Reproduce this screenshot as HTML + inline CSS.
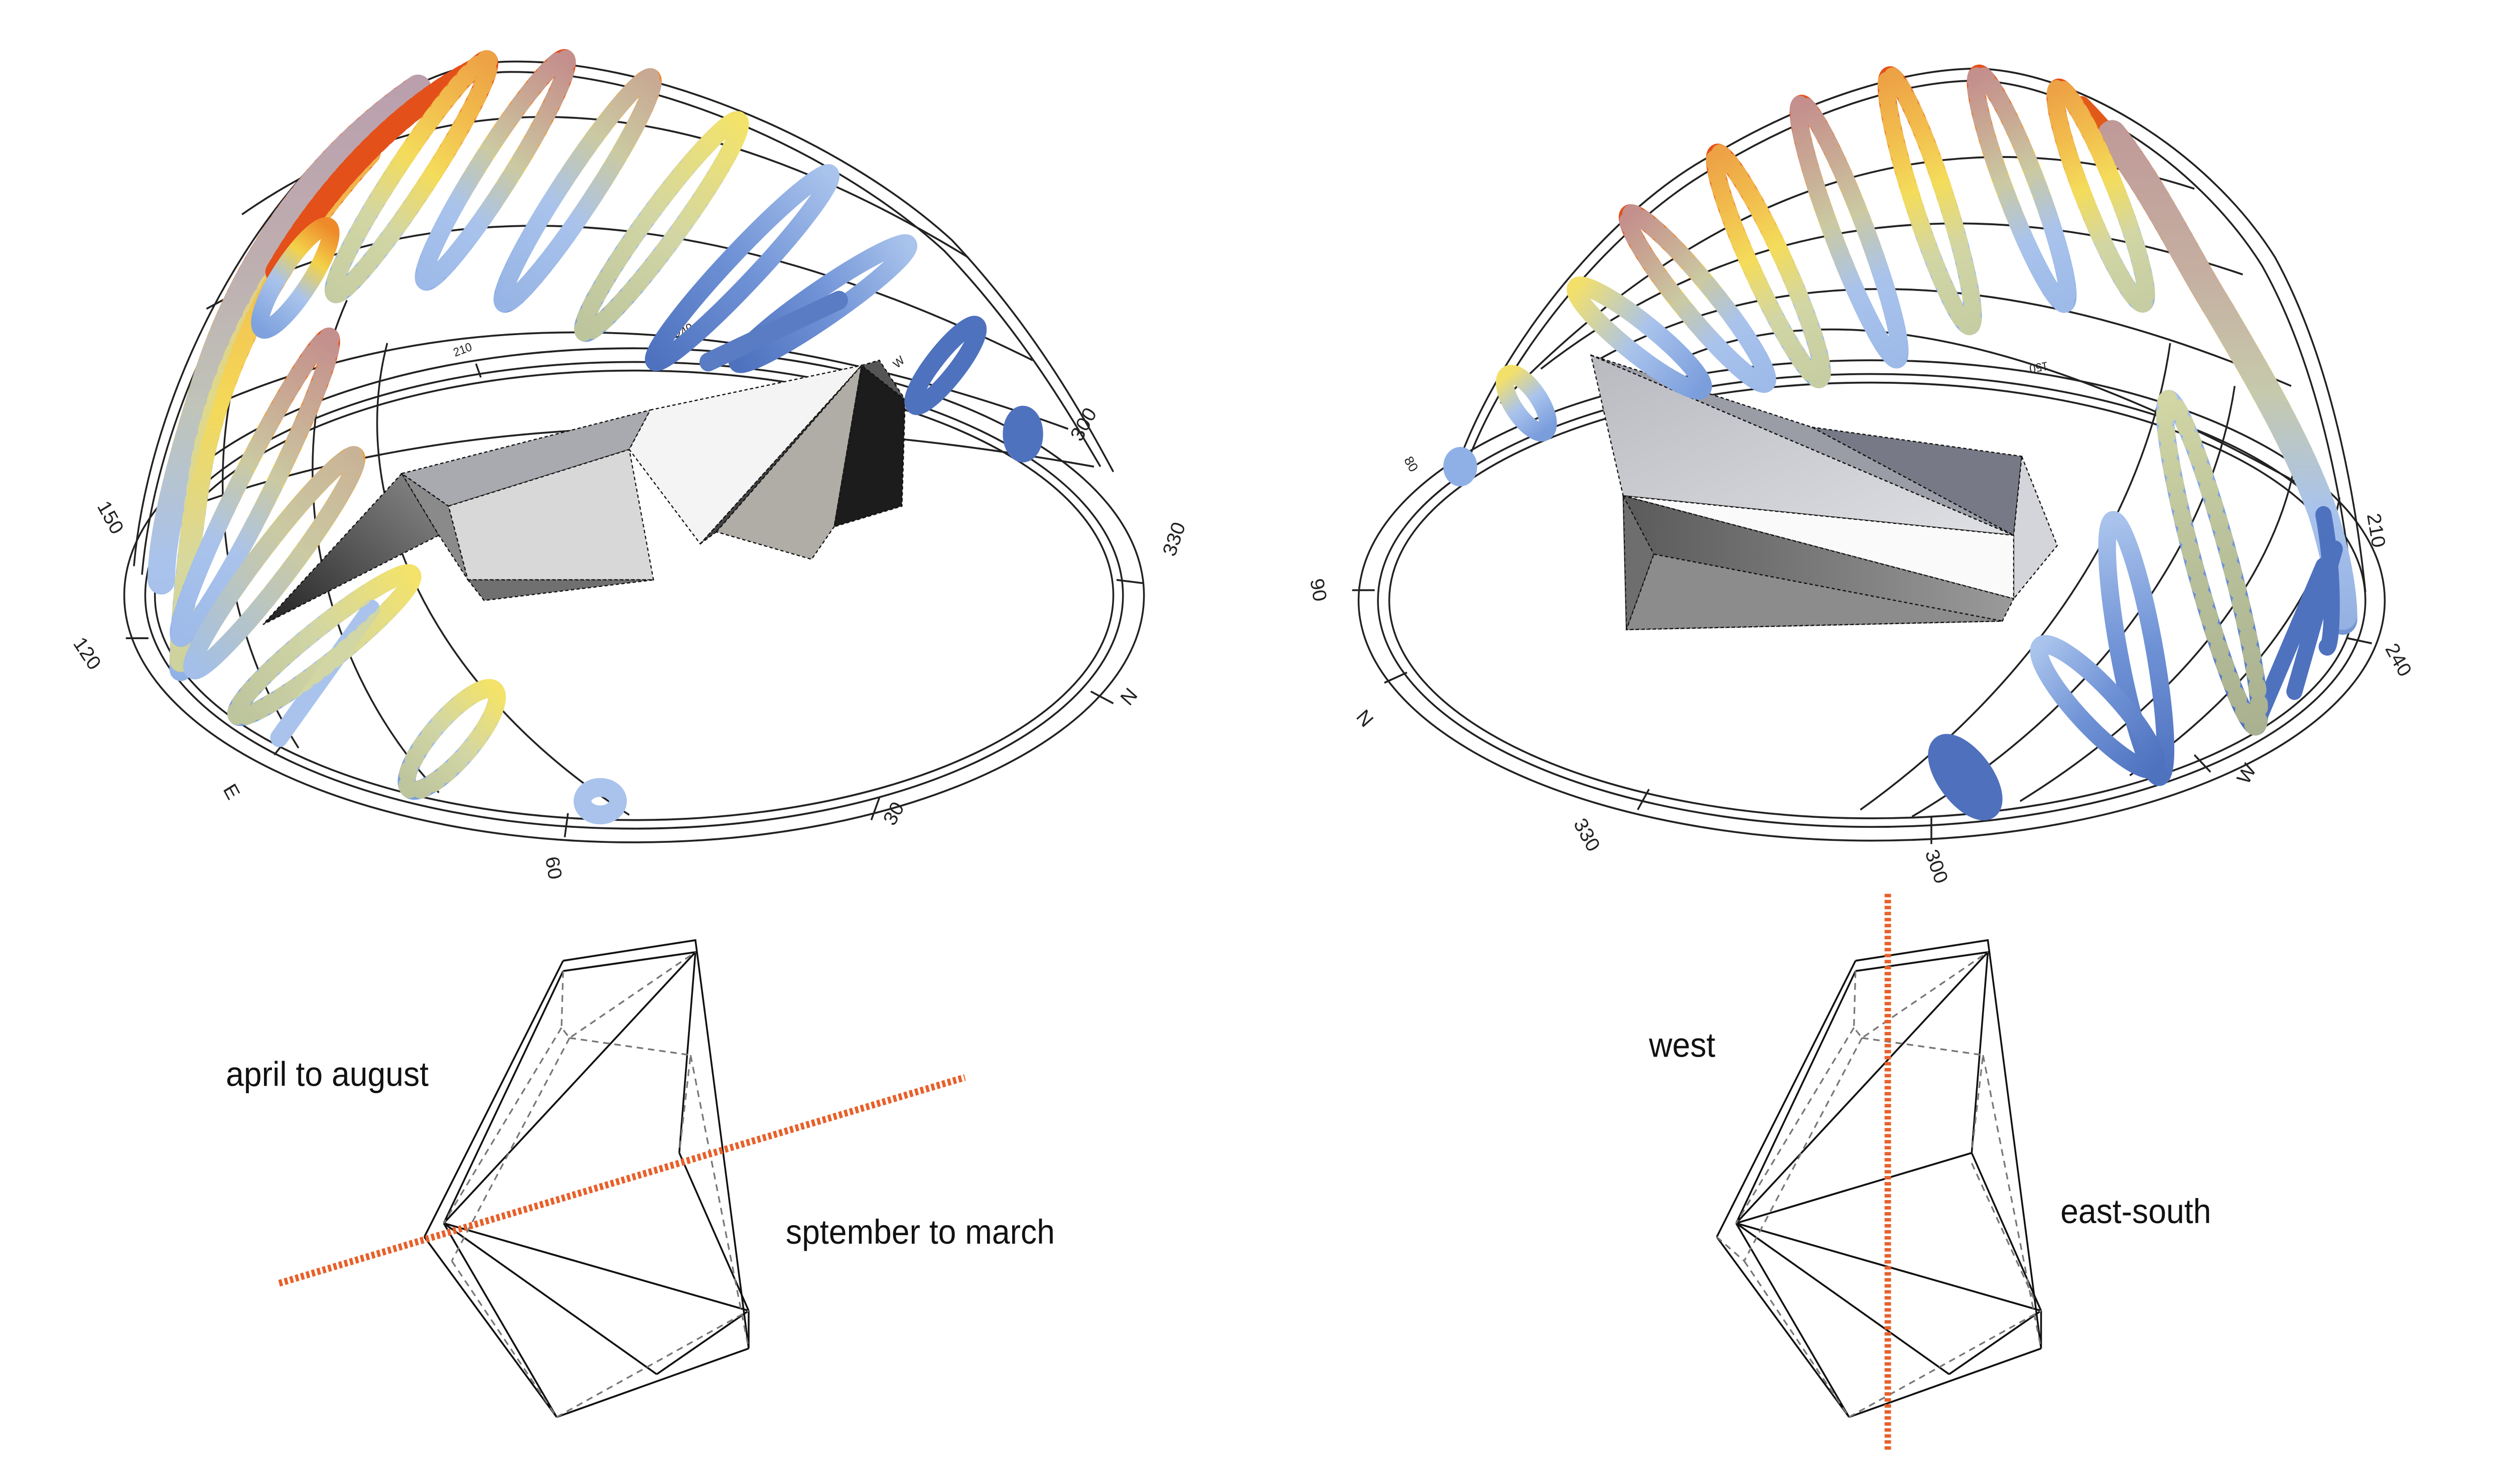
<!DOCTYPE html>
<html><head><meta charset="utf-8"><style>
html,body{margin:0;padding:0;background:#fff;width:100%;height:100%;overflow:hidden;}
svg{display:block;position:fixed;left:0;top:0;width:100vw;height:100vh;}
text{font-family:"Liberation Sans",sans-serif;}
</style></head><body>
<svg viewBox="0 0 1555 865" preserveAspectRatio="none" xmlns="http://www.w3.org/2000/svg">
<rect width="1555" height="865" fill="#fff"/>
<defs>
<linearGradient id="gA"><stop offset="0" stop-color="#e4501a"/><stop offset=".22" stop-color="#ef8a2a"/><stop offset=".45" stop-color="#f3d24a"/><stop offset=".7" stop-color="#a9c3ec"/><stop offset="1" stop-color="#8fb0e6"/></linearGradient>
<linearGradient id="gB"><stop offset="0" stop-color="#ee8a2a"/><stop offset=".3" stop-color="#f3d24a"/><stop offset=".6" stop-color="#a9c3ec"/><stop offset="1" stop-color="#7fa2de"/></linearGradient>
<linearGradient id="gC"><stop offset="0" stop-color="#f3e06a"/><stop offset=".5" stop-color="#a9c3ec"/><stop offset="1" stop-color="#7a9ddc"/></linearGradient>
<linearGradient id="gD"><stop offset="0" stop-color="#a9c3ec"/><stop offset=".5" stop-color="#6f92d6"/><stop offset="1" stop-color="#4f72bf"/></linearGradient>
<linearGradient id="gY"><stop offset="0" stop-color="#f0a030"/><stop offset=".4" stop-color="#f3d24a"/><stop offset="1" stop-color="#9bbbe8"/></linearGradient>
<linearGradient id="gVL" gradientUnits="userSpaceOnUse" x1="0" y1="40" x2="0" y2="400"><stop offset="0" stop-color="#e04818"/><stop offset=".3" stop-color="#ee7a22"/><stop offset=".55" stop-color="#f3c640"/><stop offset=".8" stop-color="#a9c3ec"/><stop offset="1" stop-color="#8fb0e6"/></linearGradient>
<linearGradient id="gVR" gradientUnits="userSpaceOnUse" x1="0" y1="70" x2="0" y2="420"><stop offset="0" stop-color="#e25a1a"/><stop offset=".25" stop-color="#f09030"/><stop offset=".45" stop-color="#f3d24a"/><stop offset=".65" stop-color="#a9c3ec"/><stop offset="1" stop-color="#4f72bf"/></linearGradient>
<linearGradient id="gWing" x1="0" y1="1" x2="1" y2="0"><stop offset="0" stop-color="#222"/><stop offset="1" stop-color="#8a8a8a"/></linearGradient>
<linearGradient id="gRt" x1="0" y1="0" x2="1" y2="1"><stop offset="0" stop-color="#b8bac0"/><stop offset="1" stop-color="#dfe0e4"/></linearGradient>
<linearGradient id="gRb" x1="0" y1="0" x2="1" y2="0"><stop offset="0" stop-color="#5a5a5a"/><stop offset="1" stop-color="#9a9a9a"/></linearGradient>
</defs>

<!-- ========== LEFT DOME GRID ========== -->
<g fill="none" stroke="#222" stroke-width="1.1">
<ellipse cx="393" cy="347" rx="316" ry="144"/>
<ellipse cx="393" cy="347" rx="303" ry="136"/>
<ellipse cx="393" cy="347" rx="297" ry="131"/>
<path d="M83 330 C 95 200, 200 40, 312 36 C 400 33, 520 80, 590 140 C 640 190, 670 240, 690 275"/>
<path d="M88 335 C 100 205, 205 46, 312 42 C 398 40, 515 86, 585 146 C 632 192, 662 240, 682 272"/>
<path d="M150 125 Q 340 0 600 150"/>
<path d="M128 180 Q 340 70 640 210"/>
<path d="M112 245 Q 340 140 662 250"/>
<path d="M104 300 Q 340 215 678 272"/>
<path d="M185 436 C 120 340 128 220 175 150"/>
<path d="M272 462 C 190 380 175 260 215 175"/>
<path d="M390 475 C 265 400 215 290 240 200"/>
</g>
<g font-size="12" fill="#222">
<text x="60" y="295" transform="rotate(60 60 295)">150</text>
<text x="45" y="375" transform="rotate(55 45 375)">120</text>
<text x="138" y="460" transform="rotate(60 138 460)">E</text>
<text x="338" y="500" transform="rotate(80 338 500)">60</text>
<text x="554" y="482" transform="rotate(-60 554 482)">30</text>
<text x="700" y="412" transform="rotate(-50 700 412)">N</text>
<text x="728" y="325" transform="rotate(-70 728 325)">330</text>
<text x="670" y="258" transform="rotate(-60 670 258)">300</text>
<text x="556" y="215" font-size="7" transform="rotate(-40 556 215)">W</text>
<text x="420" y="198" font-size="7" transform="rotate(-30 420 198)">240</text>
<text x="282" y="208" font-size="7" transform="rotate(-20 282 208)">210</text>
</g>
<g stroke="#222" stroke-width="1.1">
<line x1="540" y1="478" x2="545" y2="465"/><line x1="690" y1="410" x2="676" y2="403"/><line x1="709" y1="340" x2="692" y2="338"/><line x1="78" y1="372" x2="92" y2="372"/><line x1="170" y1="440" x2="180" y2="428"/><line x1="350" y1="488" x2="352" y2="474"/><line x1="295" y1="212" x2="298" y2="220"/>
</g>

<!-- left building -->
<g stroke="#111" stroke-width="0.7" stroke-dasharray="2,1.5">
<polygon points="249,276 163,364 272,312" fill="url(#gWing)"/>
<polygon points="249,276 272,312 290,338 278,295" fill="#8a8a8a"/>
<polygon points="249,276 403,239 390,262 278,295" fill="#a9aab0"/>
<polygon points="403,239 534,213 434,317 390,262" fill="#f4f4f4"/>
<polygon points="278,295 390,262 405,338 290,338" fill="#d8d8d8"/>
<polygon points="290,338 405,338 300,350" fill="#707070"/>
<polygon points="434,317 534,213 444,310" fill="#444"/>
<polygon points="444,310 534,213 517,307 503,326" fill="#b0aca6"/>
<polygon points="534,213 561,233 559,295 517,307" fill="#1c1c1c"/>
<polygon points="534,213 545,210 561,233" fill="#555"/>
</g>

<!-- ========== RIGHT DOME GRID ========== -->
<g fill="none" stroke="#222" stroke-width="1.1">
<ellipse cx="1160" cy="350" rx="318" ry="140"/>
<ellipse cx="1160" cy="350" rx="306" ry="132"/>
<ellipse cx="1160" cy="350" rx="299" ry="127"/>
<path d="M903 272 C 930 200, 1000 120, 1064 89 C 1120 58, 1180 40, 1226 40 C 1290 42, 1370 90, 1410 150 C 1445 210, 1460 290, 1466 345"/>
<path d="M910 268 C 937 202, 1005 126, 1068 95 C 1122 65, 1180 47, 1226 47 C 1286 49, 1362 95, 1402 155 C 1436 212, 1452 290, 1458 345"/>
<path d="M930 235 Q 1130 40 1360 110"/>
<path d="M955 215 Q 1140 80 1390 160"/>
<path d="M990 210 Q 1160 120 1420 225"/>
<path d="M1040 210 Q 1180 150 1440 290"/>
<path d="M1153 472 C 1260 400 1330 300 1345 200"/>
<path d="M1185 476 C 1295 415 1370 320 1385 225"/>
<path d="M1252 467 C 1350 410 1420 330 1425 250"/>
<path d="M1320 452 C 1400 400 1440 340 1450 290"/>
</g>
<g font-size="12" fill="#222">
<text x="812" y="338" transform="rotate(80 812 338)">90</text>
<text x="840" y="418" transform="rotate(50 840 418)">N</text>
<text x="975" y="480" transform="rotate(60 975 480)">330</text>
<text x="1193" y="497" transform="rotate(70 1193 497)">300</text>
<text x="1393" y="458" transform="rotate(-60 1393 458)">W</text>
<text x="1478" y="378" transform="rotate(60 1478 378)">240</text>
<text x="1467" y="300" transform="rotate(80 1467 300)">210</text>
<text x="870" y="268" font-size="8" transform="rotate(60 870 268)">80</text>
<text x="1255" y="212" font-size="7" transform="rotate(170 1262 212)">150</text>
</g>
<g stroke="#222" stroke-width="1.1">
<line x1="1015" y1="472" x2="1022" y2="460"/><line x1="858" y1="398" x2="872" y2="392"/><line x1="1197" y1="492" x2="1197" y2="476"/><line x1="1370" y1="450" x2="1360" y2="440"/><line x1="1470" y1="375" x2="1455" y2="372"/><line x1="838" y1="344" x2="852" y2="344"/>
</g>

<!-- right building -->
<g stroke="#111" stroke-width="0.7" stroke-dasharray="2,1.5">
<polygon points="986,207 1248,312 1006,289" fill="url(#gRt)"/>
<polygon points="986,207 1123,249 1248,312" fill="#9a9ca6"/>
<polygon points="1123,249 1253,266 1248,312" fill="#777a86"/>
<polygon points="1253,266 1275,318 1248,349 1248,312" fill="#d4d5da"/>
<polygon points="1006,289 1248,312 1248,349" fill="#fafafa"/>
<polygon points="1006,289 1248,349 1241,362 1008,367" fill="url(#gRb)"/>
<polygon points="1006,289 1025,323 1008,367" fill="#6e6e6e"/>
<polygon points="1025,323 1241,362 1008,367" fill="#8c8c8c"/>
</g>

<!-- ========== SUN PATHS LEFT ========== -->
<g fill="none" stroke-linecap="round" stroke-linejoin="round">
<path d="M259 52 C 200 90, 150 150, 125 230 C 105 290, 100 320, 100 338" stroke="url(#gVL)" stroke-width="17"/>
<path d="M229 89 C 180 140, 140 200, 125 270 C 115 330, 112 370, 112 390" stroke="url(#gVL)" stroke-width="14"/>
<path d="M259 52 C 200 90, 150 150, 125 230 C 105 290, 100 320, 100 338" stroke="#a9c3ec" stroke-width="17" stroke-dasharray="2,5" opacity=".7"/>
<path d="M229 89 C 180 140, 140 200, 125 270 C 115 330, 112 370, 112 390" stroke="#f5e66a" stroke-width="14" stroke-dasharray="3,6" opacity=".6"/>
<path d="M300 38 C 250 60, 200 110, 170 160" stroke="#e4501a" stroke-width="13" stroke-dasharray="4,3"/>
<g stroke-width="11">
<ellipse cx="183" cy="162" rx="36" ry="9" transform="rotate(125 183 162)" stroke="url(#gB)"/>
<ellipse cx="158" cy="284" rx="99" ry="10" transform="rotate(118 158 284)" stroke="url(#gA)"/>
<ellipse cx="170" cy="328" rx="80" ry="10" transform="rotate(129 170 328)" stroke="url(#gY)"/>
<ellipse cx="201" cy="376" rx="68" ry="10" transform="rotate(143 201 376)" stroke="url(#gC)"/>
<path d="M230 355 L 173 430" stroke="#a9c3ec"/>
<ellipse cx="280" cy="431" rx="39" ry="12" transform="rotate(133 280 431)" stroke="url(#gC)"/>
<ellipse cx="372" cy="467" rx="11" ry="8" stroke="#a9c3ec"/>
<ellipse cx="255" cy="103" rx="83" ry="10" transform="rotate(125 255 103)" stroke="url(#gA)"/>
<ellipse cx="307" cy="99" rx="78" ry="10" transform="rotate(124 307 99)" stroke="url(#gA)"/>
<ellipse cx="358" cy="111" rx="80" ry="10" transform="rotate(125 358 111)" stroke="url(#gB)"/>
<ellipse cx="410" cy="132" rx="78" ry="10" transform="rotate(128 410 132)" stroke="url(#gC)"/>
<ellipse cx="460" cy="156" rx="77" ry="9" transform="rotate(135 460 156)" stroke="url(#gD)"/>
<ellipse cx="510" cy="177" rx="63" ry="8" transform="rotate(147 510 177)" stroke="url(#gD)"/>
<path d="M520 175 L 439 211" stroke="#5a7cc4"/>
<ellipse cx="586" cy="213" rx="30" ry="7" transform="rotate(130 586 213)" stroke="#4f72bf"/>
<ellipse cx="634" cy="253" rx="7" ry="11" fill="#4f72bf" stroke="#4f72bf"/>
</g>
<g stroke-width="11" opacity=".55">
<ellipse cx="255" cy="103" rx="83" ry="10" transform="rotate(125 255 103)" stroke="#f5e66a" stroke-dasharray="2,6"/>
<ellipse cx="307" cy="99" rx="78" ry="10" transform="rotate(124 307 99)" stroke="#a9c3ec" stroke-dasharray="2,6"/>
<ellipse cx="358" cy="111" rx="80" ry="10" transform="rotate(125 358 111)" stroke="#a9c3ec" stroke-dasharray="3,5"/>
<ellipse cx="410" cy="132" rx="78" ry="10" transform="rotate(128 410 132)" stroke="#f5e66a" stroke-dasharray="2,6"/>
<ellipse cx="158" cy="284" rx="99" ry="10" transform="rotate(118 158 284)" stroke="#a9c3ec" stroke-dasharray="2,6"/>
<ellipse cx="170" cy="328" rx="80" ry="10" transform="rotate(129 170 328)" stroke="#a9c3ec" stroke-dasharray="3,5"/>
<ellipse cx="201" cy="376" rx="68" ry="10" transform="rotate(143 201 376)" stroke="#f5e66a" stroke-dasharray="2,6"/>
<ellipse cx="280" cy="431" rx="39" ry="12" transform="rotate(133 280 431)" stroke="#f5e66a" stroke-dasharray="2,7"/>
</g>

<!-- ========== SUN PATHS RIGHT ========== -->
<path d="M1309 79 C 1335 110, 1355 150, 1375 180 C 1400 220, 1425 260, 1440 300 C 1450 330, 1452 350, 1452 361" stroke="url(#gVR)" stroke-width="18"/>
<path d="M1290 62 C 1330 100, 1360 150, 1390 200 C 1420 250, 1440 300, 1447 340" stroke="url(#gVR)" stroke-width="12"/>
<path d="M1309 79 C 1335 110, 1355 150, 1375 180 C 1400 220, 1425 260, 1440 300 C 1450 330, 1452 350, 1452 361" stroke="#a9c3ec" stroke-width="18" stroke-dasharray="2,5" opacity=".6"/>
<path d="M1440 300 C 1448 340, 1445 380, 1442 377 M1447 320 L 1422 403 M1440 330 L 1398 423" stroke="#4f72bf" stroke-width="10"/>
<g stroke-width="11">
<ellipse cx="1016" cy="197" rx="49" ry="9" transform="rotate(37 1016 197)" stroke="url(#gC)"/>
<ellipse cx="1052" cy="174" rx="65" ry="10" transform="rotate(49 1052 174)" stroke="url(#gA)"/>
<ellipse cx="1096" cy="155" rx="73" ry="10" transform="rotate(64 1096 155)" stroke="url(#gA)"/>
<ellipse cx="1146" cy="135" rx="80" ry="10" transform="rotate(68 1146 135)" stroke="url(#gA)"/>
<ellipse cx="1196" cy="117" rx="77" ry="10" transform="rotate(71 1196 117)" stroke="url(#gA)"/>
<ellipse cx="1253" cy="110" rx="72" ry="10" transform="rotate(68 1253 110)" stroke="url(#gA)"/>
<ellipse cx="1302" cy="114" rx="68" ry="10" transform="rotate(67 1302 114)" stroke="url(#gA)"/>
<ellipse cx="946" cy="235" rx="20" ry="8" transform="rotate(54 946 235)" stroke="url(#gC)"/>
<ellipse cx="905" cy="272" rx="5" ry="6" stroke="#8fb0e6"/>
<ellipse cx="1371" cy="328" rx="99" ry="11" transform="rotate(74 1371 328)" stroke="url(#gD)"/>
<ellipse cx="1324" cy="378" rx="76" ry="11" transform="rotate(79 1324 378)" stroke="url(#gD)"/>
<ellipse cx="1300" cy="412" rx="50" ry="12" transform="rotate(45 1300 412)" stroke="url(#gD)"/>
<ellipse cx="1218" cy="453" rx="24" ry="11" transform="rotate(50 1218 453)" fill="#4f70bd" stroke="#4f70bd"/>
</g>
<g stroke-width="11" opacity=".55">
<ellipse cx="1052" cy="174" rx="65" ry="10" transform="rotate(49 1052 174)" stroke="#a9c3ec" stroke-dasharray="2,6"/>
<ellipse cx="1096" cy="155" rx="73" ry="10" transform="rotate(64 1096 155)" stroke="#f5e66a" stroke-dasharray="2,6"/>
<ellipse cx="1146" cy="135" rx="80" ry="10" transform="rotate(68 1146 135)" stroke="#a9c3ec" stroke-dasharray="3,5"/>
<ellipse cx="1196" cy="117" rx="77" ry="10" transform="rotate(71 1196 117)" stroke="#f5e66a" stroke-dasharray="2,6"/>
<ellipse cx="1253" cy="110" rx="72" ry="10" transform="rotate(68 1253 110)" stroke="#a9c3ec" stroke-dasharray="2,6"/>
<ellipse cx="1302" cy="114" rx="68" ry="10" transform="rotate(67 1302 114)" stroke="#f5e66a" stroke-dasharray="3,5"/>
<ellipse cx="1371" cy="328" rx="99" ry="11" transform="rotate(74 1371 328)" stroke="#f5e66a" stroke-dasharray="2,8"/>
</g>
</g>

<!-- ========== BOTTOM RIGHT ========== -->
<g fill="none" stroke="#111" stroke-width="1.1">
<polyline points="1150,560 1232,548 1265,786 1265,764"/>
<polyline points="1150,566 1232,555 1222,672"/>
<line x1="1150" y1="560" x2="1064" y2="721"/>
<line x1="1150" y1="566" x2="1076" y2="713"/>
<line x1="1232" y1="555" x2="1076" y2="713"/>
<line x1="1222" y1="672" x2="1076" y2="713"/>
<line x1="1222" y1="672" x2="1265" y2="764"/>
<line x1="1076" y1="713" x2="1265" y2="764"/>
<line x1="1076" y1="713" x2="1208" y2="801"/>
<line x1="1208" y1="801" x2="1265" y2="764"/>
<line x1="1064" y1="721" x2="1146" y2="826"/>
<line x1="1076" y1="713" x2="1146" y2="826"/>
<line x1="1146" y1="826" x2="1265" y2="786"/>
</g>
<g fill="none" stroke="#777" stroke-width="1" stroke-dasharray="4,3">
<polyline points="1150,566 1149,599 1154,605 1232,555"/>
<polyline points="1154,605 1229,615 1222,672"/>
<line x1="1149" y1="599" x2="1076" y2="713"/>
<line x1="1154" y1="605" x2="1081" y2="735"/>
<line x1="1064" y1="721" x2="1081" y2="735"/>
<line x1="1081" y1="735" x2="1146" y2="826"/>
<line x1="1146" y1="826" x2="1265" y2="764"/>
<line x1="1222" y1="678" x2="1262" y2="760"/>
<line x1="1229" y1="615" x2="1265" y2="786"/>
</g>
<line x1="1170" y1="521" x2="1170" y2="846" stroke="#e8602a" stroke-width="4" stroke-dasharray="2,1.5"/>
<text x="1022" y="616" font-size="20" fill="#111">west</text>
<text x="1277" y="713" font-size="20" fill="#111">east-south</text>

<!-- ========== BOTTOM LEFT ========== -->
<g transform="translate(-801 0)">
<g fill="none" stroke="#111" stroke-width="1.1">
<polyline points="1150,560 1232,548 1265,786 1265,764"/>
<polyline points="1150,566 1232,555 1222,672"/>
<line x1="1150" y1="560" x2="1064" y2="721"/>
<line x1="1150" y1="566" x2="1076" y2="713"/>
<line x1="1232" y1="555" x2="1076" y2="713"/>
<line x1="1222" y1="672" x2="1265" y2="764"/>
<line x1="1076" y1="713" x2="1265" y2="764"/>
<line x1="1076" y1="713" x2="1208" y2="801"/>
<line x1="1208" y1="801" x2="1265" y2="764"/>
<line x1="1064" y1="721" x2="1146" y2="826"/>
<line x1="1076" y1="713" x2="1146" y2="826"/>
<line x1="1146" y1="826" x2="1265" y2="786"/>
</g>
<g fill="none" stroke="#777" stroke-width="1" stroke-dasharray="4,3">
<polyline points="1150,566 1149,599 1154,605 1232,555"/>
<polyline points="1154,605 1229,615 1222,672"/>
<line x1="1149" y1="599" x2="1076" y2="713"/>
<line x1="1154" y1="605" x2="1081" y2="735"/>
<line x1="1081" y1="735" x2="1146" y2="826"/>
<line x1="1146" y1="826" x2="1265" y2="764"/>
<line x1="1229" y1="615" x2="1265" y2="786"/>
</g>
</g>
<line x1="173" y1="748" x2="598" y2="628" stroke="#e8602a" stroke-width="4" stroke-dasharray="2,1.5"/>
<text x="140" y="633" font-size="20" fill="#111">april to august</text>
<text x="487" y="725" font-size="20" fill="#111">sptember to march</text>
</svg>
</body></html>
